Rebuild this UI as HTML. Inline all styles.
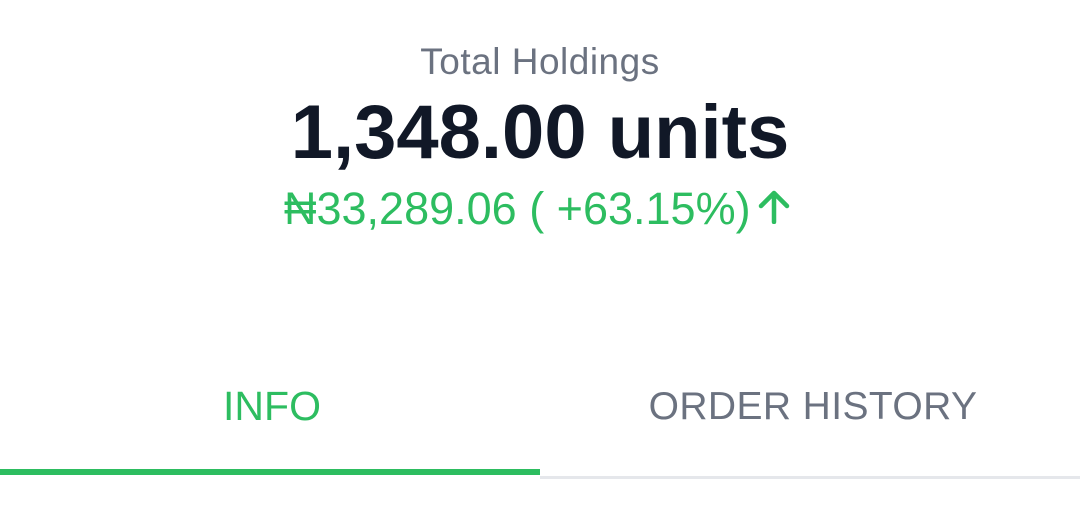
<!DOCTYPE html>
<html><head><meta charset="utf-8">
<style>
html,body{margin:0;padding:0;background:#fff;width:1080px;height:518px;overflow:hidden;font-family:"Liberation Sans",sans-serif;}
.abs{position:absolute;white-space:nowrap;}
#title{left:0;width:1080px;text-align:center;top:41px;font-size:37px;color:#6b7280;letter-spacing:0.5px;}
#units{left:0;width:1080px;text-align:center;top:89px;font-size:76px;font-weight:bold;color:#111827;}
#gain{left:284px;top:183px;font-size:45px;color:#2dbd60;letter-spacing:0;}
#arrow{left:756px;top:190px;}
.tab{top:383px;font-size:41px;text-align:center;width:540px;}
#tab-info{left:2px;color:#2dbd60;}
#tab-order{left:543px;color:#6b7280;font-size:39px;top:385px;letter-spacing:0.4px;}
#ul-green{left:0;top:469px;width:540px;height:6px;background:#2dbd60;}
#ul-gray{left:540px;top:476px;width:540px;height:3px;background:#e5e7eb;}
</style></head>
<body>
<div class="abs" id="title">Total Holdings</div>
<div class="abs" id="units">1,348.00 units</div>
<div class="abs" id="gain">₦33,289.06 ( +63.15%)</div>
<svg class="abs" id="arrow" width="36" height="34" viewBox="0 0 36 34">
<path d="M18 32 V4 M5 16 L18 3 L31 16" stroke="#2dbd60" stroke-width="4.5" fill="none" stroke-linecap="round" stroke-linejoin="round"/>
</svg>
<div class="abs tab" id="tab-info">INFO</div>
<div class="abs tab" id="tab-order">ORDER HISTORY</div>
<div class="abs" id="ul-gray"></div>
<div class="abs" id="ul-green"></div>
</body></html>
